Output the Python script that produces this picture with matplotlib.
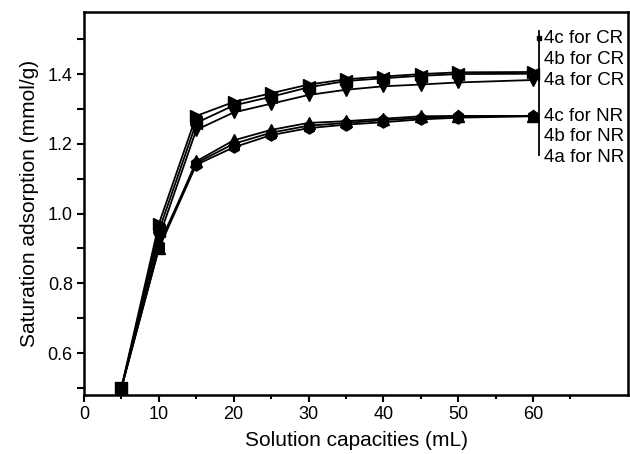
import matplotlib
matplotlib.use("Agg")
from matplotlib import pyplot as plt
from matplotlib.ticker import FixedLocator, FormatStrFormatter

plt.rcParams['font.family'] = ['Liberation Sans', 'DejaVu Sans']

volume = [5, 10, 15, 20, 25, 30, 35, 40, 45, 50, 60]

cr_4c = [0.50, 0.97, 1.28, 1.32, 1.345, 1.37, 1.385, 1.393, 1.40, 1.405, 1.406]
cr_4b = [0.50, 0.95, 1.26, 1.31, 1.335, 1.362, 1.38, 1.388, 1.395, 1.40, 1.401]
cr_4a = [0.50, 0.93, 1.24, 1.29, 1.315, 1.34, 1.355, 1.365, 1.37, 1.376, 1.383]

nr_4c = [0.50, 0.90, 1.15, 1.21, 1.24, 1.26, 1.265, 1.272, 1.279, 1.28, 1.28]
nr_4b = [0.50, 0.91, 1.145, 1.20, 1.232, 1.252, 1.26, 1.268, 1.274, 1.279, 1.28]
nr_4a = [0.50, 0.90, 1.14, 1.19, 1.225, 1.245, 1.255, 1.262, 1.27, 1.275, 1.279]

labels = ["4c for CR", "4b for CR", "4a for CR",
          "4c for NR", "4b for NR", "4a for NR"]
series = [cr_4c, cr_4b, cr_4a, nr_4c, nr_4b, nr_4a]
markers = ['>', '<', 'v', '^', 'p', 'h']

fig = plt.figure(figsize=(6.3, 4.54), dpi=100)
ax = fig.add_axes([0.1333, 0.130, 0.8637, 0.8436])

for ys, m in zip(series, markers):
    ax.plot(volume, ys, color='black', linewidth=1.3, marker=m,
            markersize=8, markerfacecolor='black', markeredgecolor='black')

ax.set_xlim(0, 72.7)
ax.set_ylim(0.48, 1.578)
ax.xaxis.set_major_locator(FixedLocator([0, 10, 20, 30, 40, 50, 60]))
ax.xaxis.set_minor_locator(FixedLocator([5, 15, 25, 35, 45, 55, 65]))
ax.yaxis.set_major_locator(FixedLocator([0.6, 0.8, 1.0, 1.2, 1.4]))
ax.yaxis.set_minor_locator(FixedLocator([0.5, 0.7, 0.9, 1.1, 1.3, 1.5]))
ax.yaxis.set_major_formatter(FormatStrFormatter('%.1f'))

ax.tick_params(axis='both', which='major', direction='out', length=5,
               width=1.5, labelsize=13, pad=3)
ax.tick_params(axis='x', which='minor', direction='out', length=3, width=1.5)
ax.tick_params(axis='y', which='minor', direction='out', length=5, width=1.5)
for s in ax.spines.values():
    s.set_linewidth(1.8)

ax.set_xlabel("Solution capacities (mL)", fontsize=15, labelpad=6)
ax.set_ylabel("Saturation adsorption (mmol/g)", fontsize=15, labelpad=6)

# legend drawn as a vertical bar with labels
ax.plot([0.836, 0.836], [0.627, 0.950], transform=ax.transAxes,
        color='black', linewidth=1.3)
ax.plot([0.836], [0.932], transform=ax.transAxes, marker='s',
        markersize=3, color='black')
leg_y = [0.932, 0.875, 0.820, 0.728, 0.674, 0.621]
for lab, yy in zip(labels, leg_y):
    ax.text(0.845, yy, lab, transform=ax.transAxes, fontsize=13.5,
            va='center', ha='left')

fig.savefig("out.png", dpi=100)
